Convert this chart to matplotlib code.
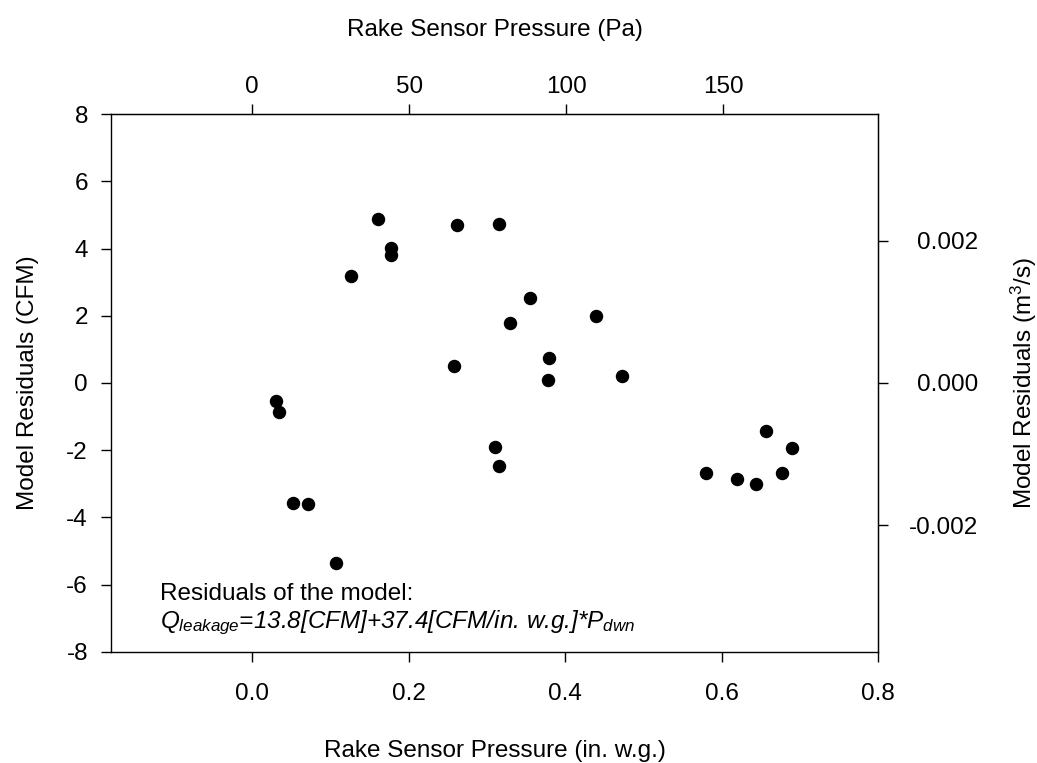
import matplotlib
matplotlib.use("Agg")
import matplotlib.pyplot as plt

plt.rcParams["font.family"] = ["Liberation Sans", "DejaVu Sans"]
plt.rcParams["axes.unicode_minus"] = False
plt.rcParams["mathtext.fontset"] = "custom"
plt.rcParams["mathtext.rm"] = "Liberation Sans"
plt.rcParams["mathtext.it"] = "Liberation Sans:italic"
plt.rcParams["mathtext.default"] = "it"

# rake sensor pressure (in. w.g.) and model residuals (CFM)
pressure_inwg = [0.031, 0.035, 0.052, 0.072, 0.107, 0.127, 0.161, 0.178, 0.178,
                 0.258, 0.262, 0.310, 0.315, 0.316, 0.329, 0.355, 0.378, 0.380,
                 0.440, 0.472, 0.580, 0.619, 0.644, 0.657, 0.677, 0.690]
residual_cfm = [-0.54, -0.87, -3.56, -3.61, -5.35, 3.19, 4.88, 4.01, 3.81,
                0.52, 4.69, -1.91, 4.72, -2.46, 1.80, 2.52, 0.10, 0.74,
                2.00, 0.21, -2.67, -2.85, -3.01, -1.44, -2.69, -1.93]

PA_PER_INWG = 249.0889
M3S_PER_CFM = 0.000471947
FS = 17.5

fig = plt.figure(figsize=(10.37, 7.63), dpi=100)
ax = fig.add_axes([0.107, 0.1459, 0.740, 0.7043])

ax.scatter(pressure_inwg, residual_cfm, s=75, color="black", zorder=3)

ax.set_xlim(-0.18, 0.8)
ax.set_ylim(-8, 8)
ax.set_xticks([0.0, 0.2, 0.4, 0.6, 0.8])
ax.set_xticklabels(["0.0", "0.2", "0.4", "0.6", "0.8"])
ax.set_yticks(range(-8, 9, 2))
ax.tick_params(direction="out", length=7.2, width=1, labelsize=FS, pad=9.4)
ax.tick_params(axis="x", pad=15.5)
ax.tick_params(top=False, right=False)
for sp in ax.spines.values():
    sp.set_linewidth(1)

ax.set_xlabel("Rake Sensor Pressure (in. w.g.)", fontsize=FS, labelpad=25)
ax.set_ylabel("Model Residuals (CFM)", fontsize=FS, labelpad=19.5)

top = ax.secondary_xaxis("top", functions=(lambda x: x * PA_PER_INWG,
                                           lambda p: p / PA_PER_INWG))
top.set_xticks([0, 50, 100, 150])
top.tick_params(direction="out", length=7.2, width=1, labelsize=FS, pad=4.3)
top.set_xlabel("Rake Sensor Pressure (Pa)", fontsize=FS, labelpad=29)

right = ax.secondary_yaxis("right", functions=(lambda c: c * M3S_PER_CFM,
                                               lambda m: m / M3S_PER_CFM))
right.set_yticks([-0.002, 0.0, 0.002])
right.set_yticklabels(["-0.002", "0.000", "0.002"])
right.tick_params(direction="out", length=7.2, width=1, labelsize=FS, pad=65)
for lbl in right.get_yticklabels():
    lbl.set_horizontalalignment("right")
right.set_ylabel("Model Residuals (m$^3$/s)", fontsize=FS, labelpad=21.5)

ax.text(-0.117, -6.46, "Residuals of the model:", fontsize=FS)
ax.text(-0.117, -7.29,
        r"$Q_{leakage}$=13.8[CFM]+37.4[CFM/in. w.g.]*$P_{dwn}$",
        fontsize=FS, fontstyle="italic")

fig.savefig("out.png", dpi=100)
